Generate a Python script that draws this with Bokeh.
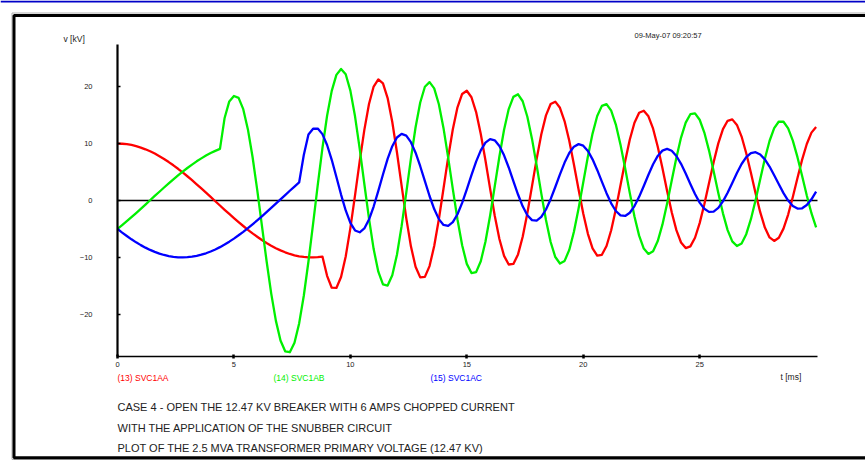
from bokeh.plotting import figure
from bokeh.models import (ColumnDataSource, Label, BoxAnnotation, FixedTicker,
                          LinearAxis)
from bokeh.embed import file_html
from bokeh.resources import INLINE

# Sample times in ms (0.2 ms step, 0 .. 30 ms)
t_ms = [round(0.2 * i, 1) for i in range(151)]

# (13) SVC1AA - phase A voltage, kV
svc1aa = [
    10.0, 9.97, 9.89, 9.75, 9.55, 9.30, 8.99, 8.64, 8.24, 7.78,
    7.29, 6.75, 6.18, 5.57, 4.93, 4.26, 3.56, 2.85, 2.12, 1.38,
    0.63, -0.13, -0.88, -1.63, -2.36, -3.09, -3.80, -4.48, -5.15, -5.78,
    -6.37, -6.94, -7.46, -7.94, -8.38, -8.76, -9.10, -9.39, -9.62, -9.80,
    -9.92, -9.99, -10.00, -9.95, -9.85, -13.23, -15.32, -15.36, -13.44, -9.83,
    -4.86, 0.89, 6.87, 12.41, 16.96, 20.02, 21.28, 20.58, 17.99, 13.79,
    8.48, 2.61, -3.09, -8.05, -11.64, -13.50, -13.42, -11.52, -8.00, -3.30,
    2.11, 7.57, 12.52, 16.36, 18.71, 19.27, 18.14, 15.53, 11.69, 7.06,
    2.08, -2.68, -6.77, -9.73, -11.24, -11.15, -9.47, -6.37, -2.23, 2.52,
    7.31, 11.63, 14.95, 16.94, 17.36, 16.29, 13.91, 10.48, 6.33, 1.93,
    -2.29, -5.85, -8.41, -9.68, -9.54, -8.00, -5.22, -1.52, 2.68, 6.91,
    10.72, 13.65, 15.40, 15.76, 14.78, 12.61, 9.45, 5.70, 1.70, -2.05,
    -5.21, -7.38, -8.36, -8.05, -6.54, -3.97, -0.67, 3.05, 6.74, 10.03,
    12.53, 14.00, 14.25, 13.28, 11.23, 8.31, 4.87, 1.27, -2.05, -4.75,
    -6.49, -7.10, -6.55, -4.94, -2.47, 0.62, 3.95, 7.18, 9.93, 11.92,
    12.91,
]

# (14) SVC1AB - phase B voltage, kV
svc1ab = [
    -5.0, -4.33, -3.64, -2.93, -2.20, -1.46, -0.71, 0.04, 0.80, 1.54,
    2.28, 3.01, 3.72, 4.41, 5.07, 5.71, 6.31, 6.88, 7.40, 7.89,
    8.33, 8.72, 9.07, 14.5, 17.4, 18.35, 18.03, 16.04, 12.49, 7.64,
    1.88, -4.36, -10.58, -16.31, -21.1, -24.58, -26.48, -26.65, -24.98, -21.59,
    -16.73, -10.71, -4.07, 2.74, 9.21, 14.88, 19.26, 22.07, 23.10, 22.18,
    19.30, 14.79, 9.12, 2.90, -3.19, -8.53, -12.51, -14.73, -14.94, -13.13,
    -9.52, -4.51, 1.35, 7.34, 12.86, 17.22, 19.98, 20.79, 19.70, 16.90,
    12.70, 7.54, 2.01, -3.33, -7.86, -11.13, -12.75, -12.58, -10.67, -7.25,
    -2.69, 2.50, 7.73, 12.43, 16.05, 18.20, 18.65, 17.43, 14.71, 10.82,
    6.14, 1.21, -3.42, -7.29, -9.93, -11.07, -10.61, -8.68, -5.50, -1.39,
    3.17, 7.73, 11.75, 14.84, 16.62, 16.93, 15.78, 13.33, 9.81, 5.66,
    1.29, -2.80, -6.17, -8.45, -9.38, -8.91, -7.13, -4.24, -0.56, 3.52,
    7.52, 11.05, 13.68, 15.16, 15.30, 14.18, 11.94, 8.81, 5.15, 1.31,
    -2.26, -5.20, -7.17, -7.99, -7.55, -5.92, -3.28, 0.06, 3.75, 7.33,
    10.45, 12.70, 13.87, 13.83, 12.66, 10.52, 7.61, 4.29, 0.87, -2.23,
    -4.71,
]

# (15) SVC1AC - phase C voltage, kV
svc1ac = [
    -5.0, -5.64, -6.24, -6.82, -7.35, -7.84, -8.28, -8.68, -9.03, -9.33,
    -9.57, -9.76, -9.90, -9.98, -10.0, -9.96, -9.87, -9.73, -9.52, -9.27,
    -8.96, -8.60, -8.19, -7.73, -7.23, -6.69, -6.11, -5.50, -4.86, -4.18,
    -3.49, -2.77, -2.04, -1.29, -0.54, 0.21, 0.96, 1.71, 2.45, 3.17,
    8.0, 11.6, 12.6, 12.64, 11.66, 9.75, 7.15, 4.12, 1.04, -1.75,
    -3.94, -5.26, -5.58, -4.91, -3.34, -1.06, 1.68, 4.57, 7.30, 9.54,
    11.06, 11.69, 11.39, 10.24, 8.40, 6.02, 3.40, 0.79, -1.51, -3.27,
    -4.29, -4.46, -3.81, -2.41, -0.42, 1.96, 4.47, 6.82, 8.80, 10.16,
    10.77, 10.57, 9.59, 7.94, 5.80, 3.42, 1.05, -1.02, -2.58, -3.45,
    -3.54, -2.89, -1.58, 0.23, 2.37, 4.59, 6.66, 8.34, 9.46, 9.90,
    9.63, 8.71, 7.23, 5.37, 3.31, 1.29, -0.49, -1.84, -2.60, -2.71,
    -2.15, -0.98, 0.64, 2.56, 4.53, 6.36, 7.83, 8.76, 9.06, 8.73,
    7.82, 6.44, 4.75, 2.91, 1.14, -0.37, -1.46, -2.00, -1.94, -1.31,
    -0.16, 1.36, 3.09, 4.84, 6.41, 7.61, 8.33, 8.48, 8.09, 7.22,
    5.96, 4.44, 2.84, 1.29, -0.01, -0.95, -1.42, -1.37, -0.80, 0.21,
    1.55,
]

x_ticks = [0, 5, 10, 15, 20, 25]
y_ticks = [-20, -10, 0, 10, 20]
t_limits = (0.0, 30.06)      # extent of the time axis, ms
v_limits = (-27.4, 27.4)     # extent of the voltage axis, kV

series_names = ["(13) SVC1AA", "(14) SVC1AB", "(15) SVC1AC"]
series_colors = ["#ff0000", "#00f000", "#0000ff"]

caption = [
    "CASE 4 - OPEN THE 12.47 KV BREAKER WITH 6 AMPS CHOPPED CURRENT",
    "WITH THE APPLICATION OF THE SNUBBER CIRCUIT",
    "PLOT OF THE 2.5 MVA TRANSFORMER PRIMARY VOLTAGE (12.47 KV)",
]
stamp = "09-May-07  09:20:57"

FONT = "Liberation Sans"
W, H = 865, 460

# The plotting frame fills the whole page; the axes sit at fixed positions
# inside it so the surrounding titles and the page border are not clipped.
PX_LEFT, PX_RIGHT = 117, 817          # horizontal extent of the time axis
PX_TOP, PX_BOTTOM = 44, 356           # vertical extent of the voltage axis
sx = (PX_RIGHT - PX_LEFT) / (t_limits[1] - t_limits[0])
sy = (PX_BOTTOM - PX_TOP) / (v_limits[1] - v_limits[0])
x_range = (t_limits[0] - PX_LEFT / sx, t_limits[1] + (W - PX_RIGHT) / sx)
y_range = (v_limits[0] - (H - PX_BOTTOM) / sy, v_limits[1] + PX_TOP / sy)

src = ColumnDataSource(data=dict(t=t_ms, a=svc1aa, b=svc1ab, c=svc1ac))

p = figure(width=W, height=H, x_range=x_range, y_range=y_range,
           output_backend="svg", toolbar_location=None, title=None,
           x_axis_type=None, y_axis_type=None, min_border=0)
p.background_fill_color = "white"
p.border_fill_color = "white"
p.outline_line_color = None
p.grid.grid_line_color = None

xaxis = LinearAxis(fixed_location=v_limits[0], bounds=t_limits,
                   ticker=FixedTicker(ticks=x_ticks))
yaxis = LinearAxis(fixed_location=t_limits[0], bounds=v_limits,
                   ticker=FixedTicker(ticks=y_ticks))
for ax in (xaxis, yaxis):
    ax.axis_line_color = "black"
    ax.major_tick_line_color = "black"
    ax.minor_tick_line_color = None
    ax.major_label_text_font = FONT
    ax.major_label_text_font_size = "7.5px"
    ax.major_label_text_color = "#222222"
xaxis.axis_line_width = 1.6
xaxis.major_tick_line_width = 2.5
xaxis.major_tick_in = 2
xaxis.major_tick_out = 2
xaxis.major_label_standoff = 3
yaxis.axis_line_width = 2.2
yaxis.major_tick_line_width = 1.5
yaxis.major_tick_in = 3
yaxis.major_tick_out = 0
yaxis.major_label_standoff = 25
p.add_layout(xaxis, "below")
p.add_layout(yaxis, "left")

# zero line across the time axis
p.segment(x0=[t_limits[0]], y0=[0], x1=[t_limits[1]], y1=[0],
          line_color="black", line_width=1.5)

for col, color in zip(["a", "b", "c"], series_colors):
    p.line("t", col, source=src, line_color=color, line_width=2.3,
           line_join="round")


def box(left, top, right, bottom, **style):
    p.add_layout(BoxAnnotation(left=left, right=right, top=top, bottom=bottom,
                               left_units="canvas", right_units="canvas",
                               top_units="canvas", bottom_units="canvas",
                               level="overlay", **style))


# rule along the top edge, then the page border with its soft shadow
box(0, 0, W, 2, fill_color="#0000c8", fill_alpha=1, line_color=None)
box(11.5, 12.5, W + 20, 459, fill_color=None, line_color="#b0b0b0",
    line_alpha=1, line_width=1)
box(13.5, 15, W + 20, 457.3, fill_color=None, line_color="black",
    line_alpha=1, line_width=3)


def put(x, y, text, size, color="#222222"):
    p.add_layout(Label(x=x, y=y, x_units="canvas", y_units="canvas", text=text,
                       text_font=FONT, text_font_size=size, text_color=color,
                       text_align="left", text_baseline="middle"))


put(63, 38, "v [kV]", "8.5px")
put(780, 376, "t [ms]", "8.5px")
put(634, 35, stamp, "7.5px")
for x, name, color in zip([117, 273, 430], series_names, series_colors):
    put(x, 377, name, "8.5px", color)
for y, line in zip([406, 427, 447], caption):
    put(117, y, line, "11px")

open("out.html", "w").write(file_html(p, INLINE))
